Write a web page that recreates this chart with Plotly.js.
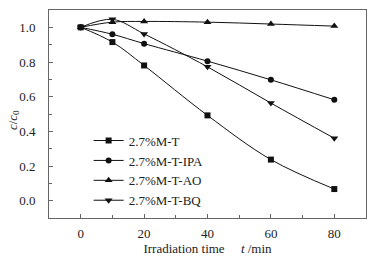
<!DOCTYPE html>
<html>
<head>
<meta charset="utf-8">
<script src="https://cdn.plot.ly/plotly-3.0.1.min.js"></script>
<style>html,body{margin:0;padding:0;background:#fff;}#chart{width:383px;height:259px;}</style>
</head>
<body>
<div id="chart"></div>
<script>
// Data
const time = [0, 10, 20, 40, 60, 80];
const seriesNames = ["2.7%M-T", "2.7%M-T-IPA", "2.7%M-T-AO", "2.7%M-T-BQ"];
const valsMT    = [1.0, 0.915, 0.78, 0.492, 0.237, 0.067];
const valsIPA   = [1.0, 0.960, 0.906, 0.805, 0.697, 0.582];
const valsAO    = [1.0, 1.030, 1.034, 1.030, 1.019, 1.007];
const valsBQ    = [1.0, 1.046, 0.962, 0.772, 0.563, 0.360];
const xTicks = [0, 20, 40, 60, 80];
const yTicks = [0.0, 0.2, 0.4, 0.6, 0.8, 1.0];

const symbols = ["square", "circle", "triangle-up", "triangle-down"];
const sizes = [6, 6, 7, 7];
const allVals = [valsMT, valsIPA, valsAO, valsBQ];
const FONT = "Liberation Serif, Times New Roman, serif";
const FS = 13;

const traces = allVals.map((v, i) => ({
  x: time, y: v, name: seriesNames[i], type: "scatter", mode: "lines+markers",
  line: {color: "#111", width: 1, shape: "spline", smoothing: 1},
  marker: {symbol: symbols[i], size: sizes[i], color: "#111"}
}));

const axisCommon = {
  showline: true, linecolor: "#666", linewidth: 1, mirror: true,
  ticks: "inside", ticklen: 4, tickcolor: "#666", tickwidth: 1,
  showgrid: false, zeroline: false,
  tickfont: {family: FONT, size: FS, color: "#222"}
};

const NB = "\u00a0";
const layout = {
  width: 383, height: 259,
  margin: {l: 49, r: 17, t: 10, b: 41},
  paper_bgcolor: "#fff", plot_bgcolor: "#fff",
  font: {family: FONT, color: "#222", size: FS},
  showlegend: true,
  legend: {
    x: 0.125, xanchor: "left", y: 0.228, yanchor: "middle",
    bgcolor: "rgba(0,0,0,0)", borderwidth: 0,
    font: {family: FONT, size: FS, color: "#222"},
    tracegroupgap: 0
  },
  xaxis: Object.assign({}, axisCommon, {
    range: [-10, 90], tickvals: xTicks, ticktext: xTicks.map(String),
    minor: {dtick: 10, tick0: 0, ticks: "inside", ticklen: 3, tickcolor: "#666"},
    ticklabelstandoff: 3,
    title: {text: "Irradiation time" + NB.repeat(5) + "<i>t</i> /min" + NB.repeat(6), font: {family: FONT, size: FS, color: "#222"}, standoff: 3}
  }),
  yaxis: Object.assign({}, axisCommon, {
    range: [-0.1, 1.1], tickvals: yTicks, ticktext: yTicks.map(v => v.toFixed(1)),
    minor: {dtick: 0.1, tick0: 0, ticks: "inside", ticklen: 3, tickcolor: "#666"},
    ticklabelstandoff: 10
  }),
  annotations: [{
    text: "<i>c</i>/<i>c</i><sub>0</sub>", textangle: -90,
    xref: "paper", yref: "paper", x: -0.114, y: 0.47,
    xanchor: "center", yanchor: "middle", showarrow: false,
    font: {family: FONT, size: FS, color: "#222"}
  }]
};

Plotly.newPlot("chart", traces, layout, {displayModeBar: false, staticPlot: true});
</script>
</body>
</html>
